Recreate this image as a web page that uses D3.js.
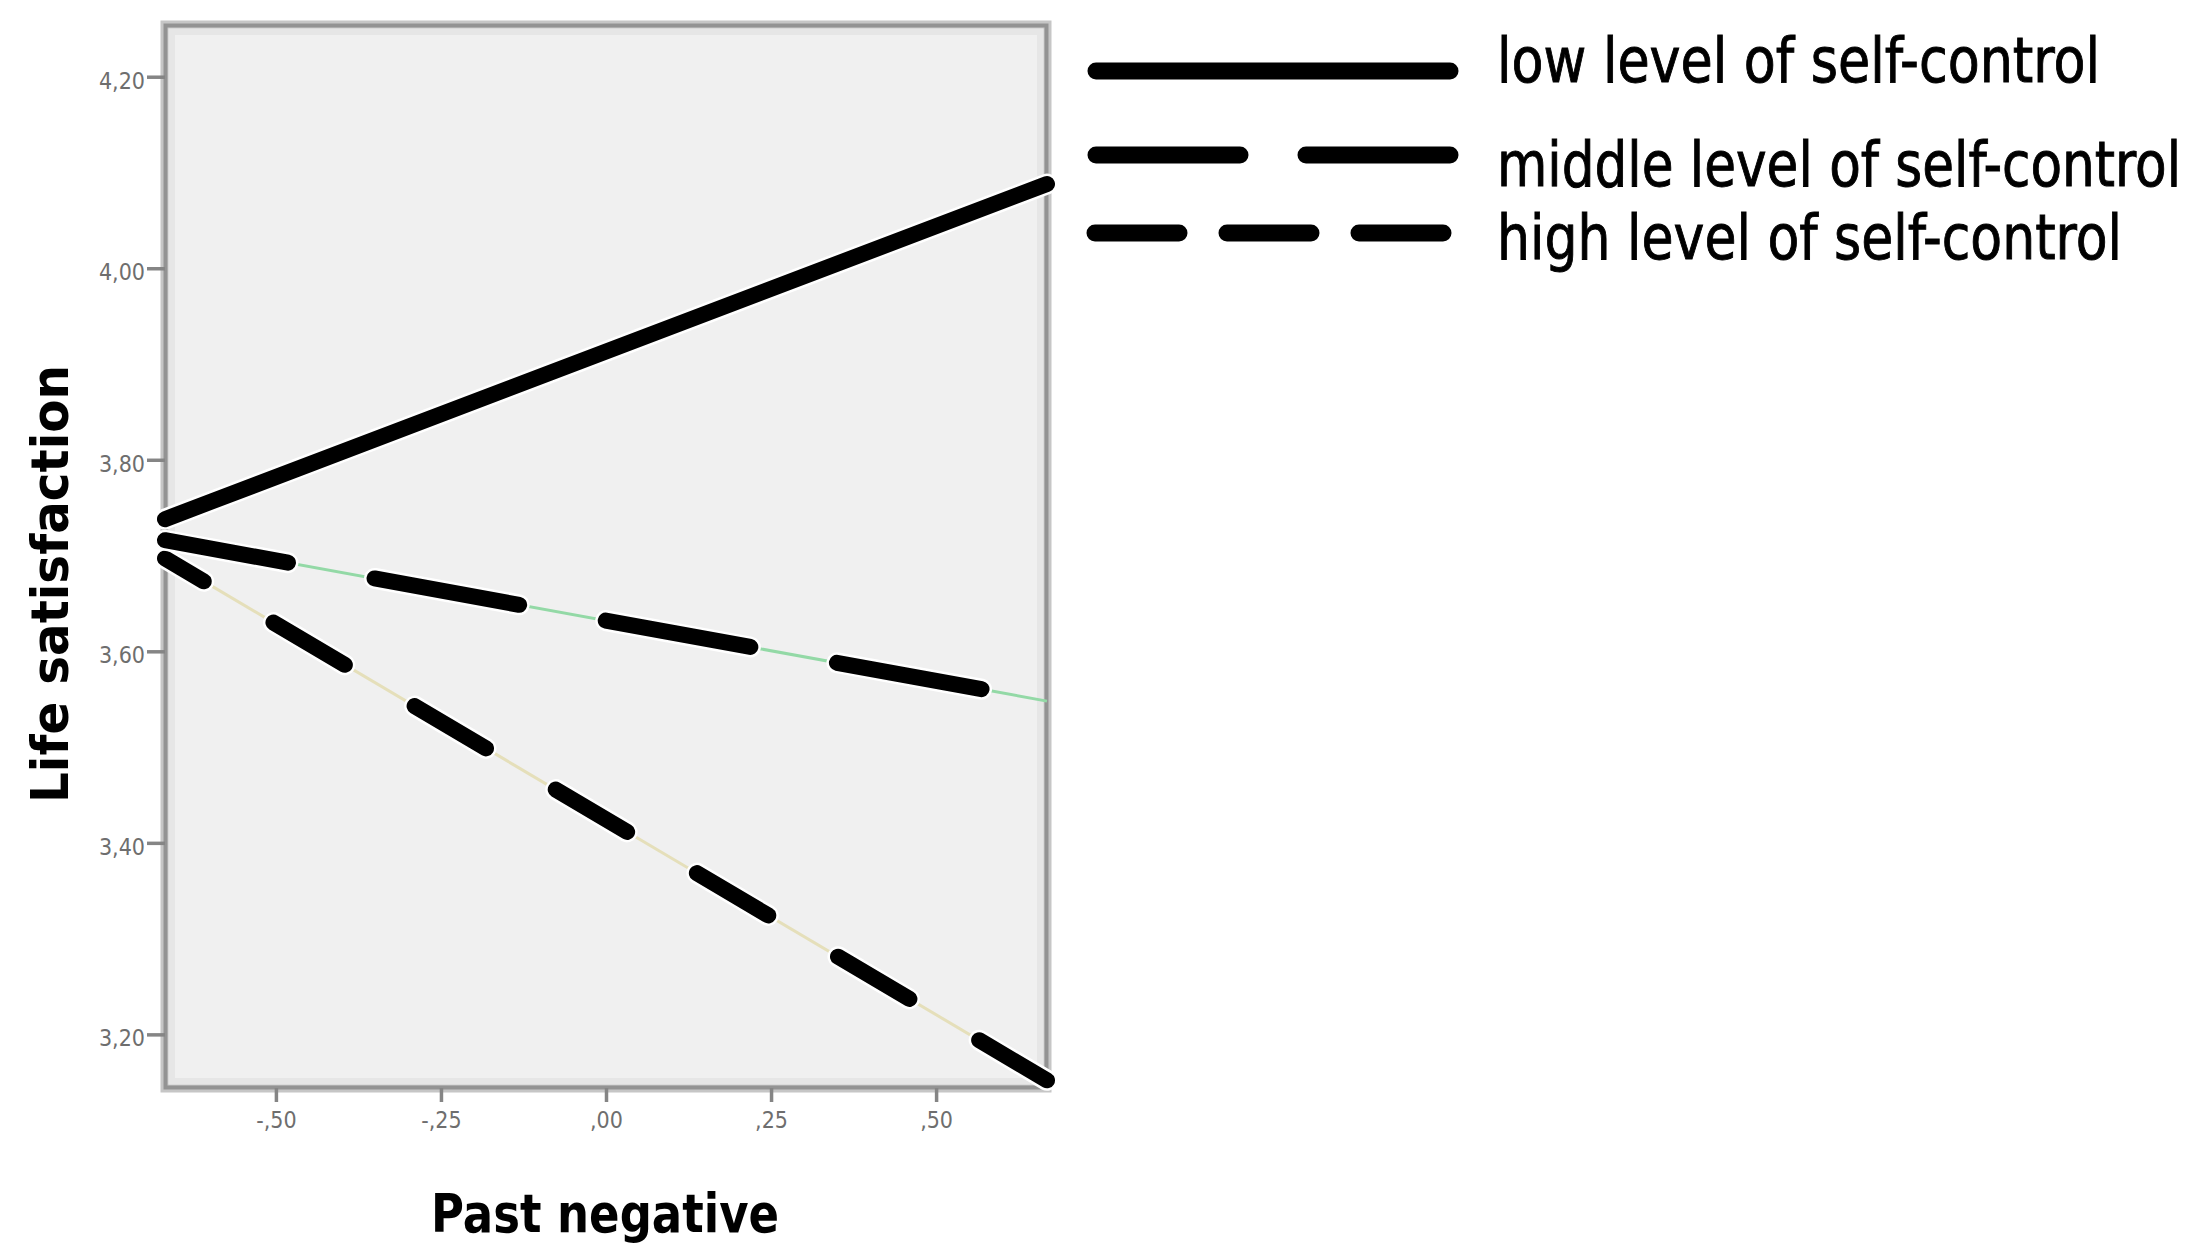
<!DOCTYPE html>
<html>
<head>
<meta charset="utf-8">
<script src="https://cdn.jsdelivr.net/npm/d3@7"></script>
<style>
  html, body { margin: 0; padding: 0; background: #ffffff; }
  svg { display: block; }
</style>
</head>
<body>
<svg id="chart" width="2209" height="1246"></svg>
<script>
// ==========================================================
// DATA
// ==========================================================

// x positions of the two end points (Past negative, centred)
const xValues = [-0.668, 0.668];

// Life satisfaction at both ends, one array per group
const lowSelfControl = [3.738, 4.088];
const middleSelfControl = [3.716, 3.548];
const highSelfControl = [3.697, 3.152];

const seriesLabels = [
    "low level of self-control",
    "middle level of self-control",
    "high level of self-control"
];

const yTicks = [3.2, 3.4, 3.6, 3.8, 4.0, 4.2];
const xTicks = [-0.5, -0.25, 0, 0.25, 0.5];

// ==========================================================
// STYLE / LAYOUT
// ==========================================================

const plot = { left: 165, right: 1047, top: 25, bottom: 1088 };

// thin SPSS line colour + thick black overlay dash for each group
const seriesStyle = [
    { thin: "#c9cbe6", dash: null, offset: 0 },
    { thin: "#93d9a6", dash: "147,88", offset: 22 },
    { thin: "#e5dfba", dash: "83,81", offset: 38 }
];

const legendRows = [
    { y: 71, x1: 1096, x2: 1450, dash: null, textY: 82, textLen: 603 },
    { y: 155, x1: 1096, x2: 1450, dash: "144,66", textY: 186, textLen: 684 },
    { y: 233, x1: 1095, x2: 1443, dash: "84,48", textY: 259, textLen: 625 }
];

// SPSS style decimals: 4,20  -,50  ,00
function spssFormat(v) {
    let s = d3.format(".2f")(v).replace("\u2212", "-").replace(".", ",");
    if (Math.abs(v) < 1) s = s.replace("0,", ",");
    return s;
}

// ==========================================================
// CHART
// ==========================================================

const svg = d3.select("#chart");

const x = d3.scaleLinear().domain([-0.668, 0.668]).range([plot.left, plot.right]);
const y = d3.scaleLinear().domain([3.144, 4.254]).range([plot.bottom, plot.top]);

// plot frame
const pw = plot.right - plot.left;
const ph = plot.bottom - plot.top;

svg.append("rect")
    .attr("x", plot.left).attr("y", plot.top)
    .attr("width", pw).attr("height", ph)
    .attr("fill", "#f0f0f0");

svg.append("rect")
    .attr("x", plot.left + 7).attr("y", plot.top + 7)
    .attr("width", pw - 14).attr("height", ph - 14)
    .attr("fill", "none")
    .attr("stroke", "#e6e6e6")
    .attr("stroke-width", 6);

svg.append("rect")
    .attr("x", plot.left - 0.5).attr("y", plot.top - 0.5)
    .attr("width", pw + 1).attr("height", ph + 1)
    .attr("fill", "none")
    .attr("stroke", "#c6c6c6")
    .attr("stroke-width", 8);

svg.append("rect")
    .attr("x", plot.left + 0.5).attr("y", plot.top + 0.5)
    .attr("width", pw - 1).attr("height", ph - 1)
    .attr("fill", "none")
    .attr("stroke", "#939393")
    .attr("stroke-width", 4);

// axes
const yAxis = d3.axisLeft(y)
    .tickValues(yTicks)
    .tickSize(18)
    .tickPadding(2)
    .tickFormat(spssFormat);

const xAxis = d3.axisBottom(x)
    .tickValues(xTicks)
    .tickSize(14)
    .tickPadding(10)
    .tickFormat(spssFormat);

const yG = svg.append("g").attr("transform", `translate(${plot.left},0)`).call(yAxis);
const xG = svg.append("g").attr("transform", `translate(0,${plot.bottom})`).call(xAxis);

[yG, xG].forEach(g => {
    g.select(".domain").remove();
    g.selectAll(".tick line")
        .attr("stroke", "#858585")
        .attr("stroke-width", 3.5);
    g.selectAll(".tick text")
        .attr("fill", "#6e6e6e")
        .style("font-family", "'DejaVu Sans Condensed', 'DejaVu Sans', sans-serif")
        .style("font-size", "23px");
});
yG.selectAll(".tick text").attr("dy", "0.5em");

// lines
const series = [lowSelfControl, middleSelfControl, highSelfControl];

const line = d3.line()
    .x((d, i) => x(xValues[i]))
    .y(d => y(d));

const linesG = svg.append("g");

// thin coloured fit lines first
series.forEach((vals, i) => {
    linesG.append("path")
        .datum(vals)
        .attr("d", line)
        .attr("fill", "none")
        .attr("stroke", seriesStyle[i].thin)
        .attr("stroke-width", 3);
});

// thick black overlays, drawn high -> low
[2, 1, 0].forEach(i => {
    const st = seriesStyle[i];

    linesG.append("path")
        .datum(series[i])
        .attr("d", line)
        .attr("fill", "none")
        .attr("stroke", "#ffffff")
        .attr("stroke-width", 21)
        .attr("stroke-linecap", "round")
        .attr("stroke-dasharray", st.dash)
        .attr("stroke-dashoffset", st.offset);

    linesG.append("path")
        .datum(series[i])
        .attr("d", line)
        .attr("fill", "none")
        .attr("stroke", "#000000")
        .attr("stroke-width", 16)
        .attr("stroke-linecap", "round")
        .attr("stroke-dasharray", st.dash)
        .attr("stroke-dashoffset", st.offset);
});

// axis titles
svg.append("text")
    .attr("transform", "translate(68,584) rotate(-90)")
    .attr("text-anchor", "middle")
    .attr("textLength", 438)
    .attr("lengthAdjust", "spacingAndGlyphs")
    .style("font-family", "'DejaVu Sans', sans-serif")
    .style("font-weight", "bold")
    .style("font-size", "51px")
    .attr("fill", "#000")
    .text("Life satisfaction");

svg.append("text")
    .attr("x", 605)
    .attr("y", 1232)
    .attr("text-anchor", "middle")
    .attr("textLength", 348)
    .attr("lengthAdjust", "spacingAndGlyphs")
    .style("font-family", "'DejaVu Sans', sans-serif")
    .style("font-weight", "bold")
    .style("font-size", "53px")
    .attr("fill", "#000")
    .text("Past negative");

// legend
const legendG = svg.append("g");

legendRows.forEach((row, i) => {
    legendG.append("line")
        .attr("x1", row.x1).attr("x2", row.x2)
        .attr("y1", row.y).attr("y2", row.y)
        .attr("stroke", "#000")
        .attr("stroke-width", 17)
        .attr("stroke-linecap", "round")
        .attr("stroke-dasharray", row.dash);

    // narrow, tall lettering: smaller font stretched vertically
    legendG.append("text")
        .attr("transform", `translate(1497,${row.textY}) scale(1,1.1)`)
        .attr("textLength", row.textLen)
        .attr("lengthAdjust", "spacingAndGlyphs")
        .style("font-family", "'DejaVu Sans Condensed', 'DejaVu Sans', sans-serif")
        .style("font-size", "57px")
        .attr("fill", "#000")
        .attr("stroke", "#000")
        .attr("stroke-width", 0.8)
        .text(seriesLabels[i]);
});
</script>
</body>
</html>
